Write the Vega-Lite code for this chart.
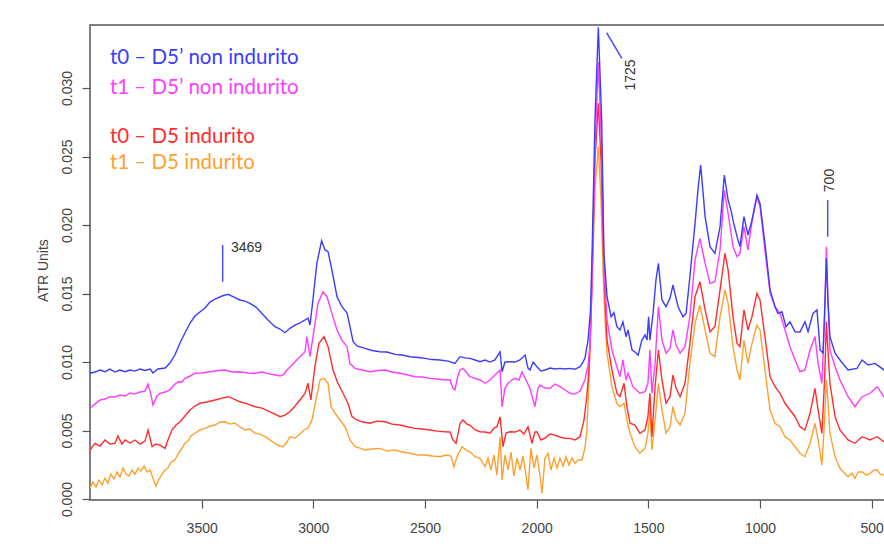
{
  "$schema": "https://vega.github.io/schema/vega-lite/v6.json",
  "width": 796,
  "height": 475,
  "autosize": {"type": "none"},
  "padding": {"left": 90, "top": 25, "right": 0, "bottom": 57},
  "background": "white",
  "config": {
    "view": {"stroke": "#555", "strokeWidth": 1.5},
    "axis": {"labelFont": "Liberation Sans", "labelFontSize": 14, "labelColor": "#444", "titleFont": "Liberation Sans", "titleFontSize": 14, "titleColor": "#444", "titleFontWeight": "normal", "grid": false, "domain": false, "tickColor": "#555", "tickWidth": 1.2, "tickSize": 8}
  },
  "datasets": {
    "spec": [
      {"s":"o","x":4000,"y":0.0008},{"s":"o","x":3987,"y":0.00124},{"s":"o","x":3973,"y":0.00088},{"s":"o","x":3960,"y":0.00139},{"s":"o","x":3946,"y":0.00102},{"s":"o","x":3933,"y":0.00153},{"s":"o","x":3920,"y":0.00117},{"s":"o","x":3906,"y":0.00182},{"s":"o","x":3893,"y":0.00146},{"s":"o","x":3879,"y":0.00197},{"s":"o","x":3866,"y":0.00161},{"s":"o","x":3852,"y":0.00226},{"s":"o","x":3839,"y":0.00182},{"s":"o","x":3826,"y":0.00168},{"s":"o","x":3812,"y":0.00212},{"s":"o","x":3799,"y":0.00182},{"s":"o","x":3785,"y":0.00226},{"s":"o","x":3772,"y":0.00204},{"s":"o","x":3758,"y":0.00241},{"s":"o","x":3745,"y":0.00197},{"s":"o","x":3731,"y":0.00212},{"s":"o","x":3718,"y":0.00153},{"s":"o","x":3705,"y":0.00095},{"s":"o","x":3691,"y":0.00146},{"s":"o","x":3678,"y":0.00182},{"s":"o","x":3664,"y":0.00212},{"s":"o","x":3651,"y":0.00226},{"s":"o","x":3637,"y":0.0027},{"s":"o","x":3620,"y":0.00285},{"s":"o","x":3606,"y":0.00328},{"s":"o","x":3593,"y":0.00358},{"s":"o","x":3575,"y":0.00407},{"s":"o","x":3561,"y":0.00423},{"s":"o","x":3548,"y":0.0046},{"s":"o","x":3530,"y":0.0048},{"s":"o","x":3508,"y":0.00504},{"s":"o","x":3485,"y":0.00516},{"s":"o","x":3463,"y":0.00533},{"s":"o","x":3440,"y":0.0054},{"s":"o","x":3418,"y":0.00562},{"s":"o","x":3396,"y":0.00564},{"s":"o","x":3373,"y":0.00547},{"s":"o","x":3351,"y":0.00555},{"s":"o","x":3329,"y":0.00526},{"s":"o","x":3306,"y":0.00504},{"s":"o","x":3284,"y":0.00511},{"s":"o","x":3261,"y":0.0048},{"s":"o","x":3239,"y":0.00474},{"s":"o","x":3216,"y":0.00455},{"s":"o","x":3194,"y":0.00431},{"s":"o","x":3172,"y":0.00407},{"s":"o","x":3149,"y":0.00387},{"s":"o","x":3136,"y":0.00382},{"s":"o","x":3118,"y":0.00416},{"s":"o","x":3105,"y":0.00455},{"s":"o","x":3082,"y":0.00445},{"s":"o","x":3060,"y":0.00474},{"s":"o","x":3042,"y":0.00504},{"s":"o","x":3024,"y":0.00518},{"s":"o","x":3006,"y":0.00577},{"s":"o","x":2988,"y":0.00723},{"s":"o","x":2970,"y":0.00869},{"s":"o","x":2952,"y":0.00881},{"s":"o","x":2934,"y":0.00845},{"s":"o","x":2921,"y":0.00674},{"s":"o","x":2903,"y":0.00626},{"s":"o","x":2881,"y":0.00577},{"s":"o","x":2858,"y":0.00528},{"s":"o","x":2836,"y":0.00431},{"s":"o","x":2814,"y":0.00382},{"s":"o","x":2791,"y":0.00372},{"s":"o","x":2769,"y":0.00358},{"s":"o","x":2737,"y":0.00365},{"s":"o","x":2702,"y":0.0037},{"s":"o","x":2670,"y":0.0035},{"s":"o","x":2634,"y":0.00358},{"s":"o","x":2603,"y":0.00343},{"s":"o","x":2567,"y":0.00334},{"s":"o","x":2531,"y":0.00321},{"s":"o","x":2500,"y":0.00321},{"s":"o","x":2469,"y":0.00314},{"s":"o","x":2433,"y":0.00309},{"s":"o","x":2406,"y":0.00321},{"s":"o","x":2384,"y":0.00314},{"s":"o","x":2370,"y":0.00236},{"s":"o","x":2357,"y":0.00309},{"s":"o","x":2334,"y":0.00382},{"s":"o","x":2317,"y":0.00358},{"s":"o","x":2299,"y":0.00345},{"s":"o","x":2276,"y":0.00309},{"s":"o","x":2254,"y":0.00297},{"s":"o","x":2231,"y":0.00236},{"s":"o","x":2218,"y":0.00299},{"s":"o","x":2205,"y":0.00212},{"s":"o","x":2191,"y":0.00321},{"s":"o","x":2178,"y":0.00175},{"s":"o","x":2164,"y":0.00455},{"s":"o","x":2155,"y":0.00139},{"s":"o","x":2142,"y":0.00321},{"s":"o","x":2128,"y":0.00212},{"s":"o","x":2115,"y":0.00343},{"s":"o","x":2102,"y":0.00168},{"s":"o","x":2088,"y":0.00299},{"s":"o","x":2075,"y":0.00212},{"s":"o","x":2061,"y":0.00314},{"s":"o","x":2048,"y":0.00175},{"s":"o","x":2039,"y":0.00066},{"s":"o","x":2026,"y":0.0037},{"s":"o","x":2012,"y":0.00226},{"s":"o","x":1999,"y":0.00321},{"s":"o","x":1985,"y":0.00168},{"s":"o","x":1976,"y":0.00042},{"s":"o","x":1963,"y":0.00299},{"s":"o","x":1949,"y":0.00334},{"s":"o","x":1936,"y":0.00212},{"s":"o","x":1922,"y":0.00299},{"s":"o","x":1909,"y":0.00226},{"s":"o","x":1896,"y":0.00299},{"s":"o","x":1882,"y":0.00241},{"s":"o","x":1869,"y":0.00309},{"s":"o","x":1855,"y":0.00248},{"s":"o","x":1842,"y":0.00299},{"s":"o","x":1829,"y":0.00261},{"s":"o","x":1815,"y":0.00285},{"s":"o","x":1797,"y":0.00285},{"s":"o","x":1784,"y":0.00372},{"s":"o","x":1775,"y":0.00504},{"s":"o","x":1766,"y":0.00869},{"s":"o","x":1757,"y":0.01307},{"s":"o","x":1748,"y":0.01745},{"s":"o","x":1739,"y":0.02255},{"s":"o","x":1724,"y":0.02572},{"s":"o","x":1712,"y":0.02182},{"s":"o","x":1703,"y":0.01672},{"s":"o","x":1694,"y":0.01307},{"s":"o","x":1685,"y":0.01064},{"s":"o","x":1663,"y":0.0082},{"s":"o","x":1641,"y":0.00699},{"s":"o","x":1627,"y":0.00674},{"s":"o","x":1609,"y":0.00699},{"s":"o","x":1596,"y":0.00577},{"s":"o","x":1582,"y":0.0048},{"s":"o","x":1560,"y":0.00382},{"s":"o","x":1538,"y":0.00334},{"s":"o","x":1515,"y":0.0037},{"s":"o","x":1502,"y":0.0048},{"s":"o","x":1493,"y":0.0065},{"s":"o","x":1484,"y":0.00358},{"s":"o","x":1470,"y":0.00577},{"s":"o","x":1455,"y":0.00845},{"s":"o","x":1439,"y":0.0065},{"s":"o","x":1421,"y":0.0048},{"s":"o","x":1403,"y":0.00528},{"s":"o","x":1390,"y":0.00674},{"s":"o","x":1376,"y":0.00577},{"s":"o","x":1358,"y":0.0054},{"s":"o","x":1336,"y":0.00626},{"s":"o","x":1314,"y":0.0099},{"s":"o","x":1291,"y":0.01282},{"s":"o","x":1269,"y":0.01416},{"s":"o","x":1246,"y":0.01234},{"s":"o","x":1224,"y":0.01064},{"s":"o","x":1202,"y":0.01039},{"s":"o","x":1179,"y":0.01331},{"s":"o","x":1157,"y":0.01526},{"s":"o","x":1143,"y":0.01428},{"s":"o","x":1121,"y":0.01112},{"s":"o","x":1103,"y":0.00942},{"s":"o","x":1090,"y":0.00869},{"s":"o","x":1072,"y":0.0116},{"s":"o","x":1054,"y":0.0099},{"s":"o","x":1036,"y":0.01136},{"s":"o","x":1014,"y":0.0127},{"s":"o","x":1000,"y":0.01234},{"s":"o","x":978,"y":0.00942},{"s":"o","x":955,"y":0.0065},{"s":"o","x":933,"y":0.00553},{"s":"o","x":911,"y":0.00528},{"s":"o","x":888,"y":0.00455},{"s":"o","x":866,"y":0.00431},{"s":"o","x":843,"y":0.00382},{"s":"o","x":821,"y":0.00334},{"s":"o","x":799,"y":0.00309},{"s":"o","x":776,"y":0.00407},{"s":"o","x":754,"y":0.00553},{"s":"o","x":740,"y":0.00431},{"s":"o","x":723,"y":0.00248},{"s":"o","x":711,"y":0.00577},{"s":"o","x":703,"y":0.00869},{"s":"o","x":696,"y":0.00723},{"s":"o","x":687,"y":0.0048},{"s":"o","x":664,"y":0.00309},{"s":"o","x":642,"y":0.00224},{"s":"o","x":606,"y":0.00163},{"s":"o","x":588,"y":0.0019},{"s":"o","x":575,"y":0.00151},{"s":"o","x":561,"y":0.00197},{"s":"o","x":543,"y":0.00199},{"s":"o","x":525,"y":0.00175},{"s":"o","x":507,"y":0.00188},{"s":"o","x":490,"y":0.00212},{"s":"o","x":476,"y":0.00212},{"s":"o","x":462,"y":0.00182},{"s":"o","x":445,"y":0.00175},{"s":"o","x":436,"y":0.0017},

      {"s":"r","x":4000,"y":0.00358},{"s":"r","x":3978,"y":0.00407},{"s":"r","x":3955,"y":0.00387},{"s":"r","x":3933,"y":0.00431},{"s":"r","x":3911,"y":0.00401},{"s":"r","x":3888,"y":0.00407},{"s":"r","x":3875,"y":0.0046},{"s":"r","x":3857,"y":0.00401},{"s":"r","x":3843,"y":0.00431},{"s":"r","x":3821,"y":0.00409},{"s":"r","x":3799,"y":0.00431},{"s":"r","x":3776,"y":0.00401},{"s":"r","x":3754,"y":0.00423},{"s":"r","x":3740,"y":0.00504},{"s":"r","x":3722,"y":0.00382},{"s":"r","x":3705,"y":0.00401},{"s":"r","x":3687,"y":0.00394},{"s":"r","x":3664,"y":0.0037},{"s":"r","x":3651,"y":0.00431},{"s":"r","x":3633,"y":0.00504},{"s":"r","x":3615,"y":0.0054},{"s":"r","x":3597,"y":0.00564},{"s":"r","x":3575,"y":0.00606},{"s":"r","x":3552,"y":0.0065},{"s":"r","x":3530,"y":0.00679},{"s":"r","x":3508,"y":0.00699},{"s":"r","x":3476,"y":0.00708},{"s":"r","x":3440,"y":0.00723},{"s":"r","x":3409,"y":0.00737},{"s":"r","x":3382,"y":0.00747},{"s":"r","x":3355,"y":0.0073},{"s":"r","x":3329,"y":0.0071},{"s":"r","x":3293,"y":0.00693},{"s":"r","x":3261,"y":0.00674},{"s":"r","x":3230,"y":0.00664},{"s":"r","x":3194,"y":0.00637},{"s":"r","x":3172,"y":0.0062},{"s":"r","x":3149,"y":0.00601},{"s":"r","x":3127,"y":0.00613},{"s":"r","x":3105,"y":0.00637},{"s":"r","x":3082,"y":0.00679},{"s":"r","x":3060,"y":0.00723},{"s":"r","x":3037,"y":0.00772},{"s":"r","x":3024,"y":0.00845},{"s":"r","x":3011,"y":0.00723},{"s":"r","x":2993,"y":0.00966},{"s":"r","x":2975,"y":0.01136},{"s":"r","x":2952,"y":0.01185},{"s":"r","x":2934,"y":0.01112},{"s":"r","x":2912,"y":0.00942},{"s":"r","x":2890,"y":0.00845},{"s":"r","x":2867,"y":0.00772},{"s":"r","x":2845,"y":0.00699},{"s":"r","x":2827,"y":0.00601},{"s":"r","x":2805,"y":0.00577},{"s":"r","x":2778,"y":0.00562},{"s":"r","x":2746,"y":0.00553},{"s":"r","x":2715,"y":0.00569},{"s":"r","x":2679,"y":0.00564},{"s":"r","x":2648,"y":0.00547},{"s":"r","x":2612,"y":0.0054},{"s":"r","x":2576,"y":0.00526},{"s":"r","x":2545,"y":0.00516},{"s":"r","x":2514,"y":0.00511},{"s":"r","x":2478,"y":0.00504},{"s":"r","x":2446,"y":0.00496},{"s":"r","x":2411,"y":0.00491},{"s":"r","x":2388,"y":0.00489},{"s":"r","x":2375,"y":0.00431},{"s":"r","x":2361,"y":0.00407},{"s":"r","x":2343,"y":0.00553},{"s":"r","x":2330,"y":0.00577},{"s":"r","x":2312,"y":0.00547},{"s":"r","x":2299,"y":0.0054},{"s":"r","x":2276,"y":0.00504},{"s":"r","x":2254,"y":0.00491},{"s":"r","x":2231,"y":0.00489},{"s":"r","x":2209,"y":0.0048},{"s":"r","x":2191,"y":0.00518},{"s":"r","x":2178,"y":0.00528},{"s":"r","x":2164,"y":0.00601},{"s":"r","x":2151,"y":0.00382},{"s":"r","x":2137,"y":0.00482},{"s":"r","x":2120,"y":0.00491},{"s":"r","x":2097,"y":0.00489},{"s":"r","x":2075,"y":0.00504},{"s":"r","x":2057,"y":0.00474},{"s":"r","x":2039,"y":0.00528},{"s":"r","x":2021,"y":0.00407},{"s":"r","x":2008,"y":0.00489},{"s":"r","x":1999,"y":0.00491},{"s":"r","x":1981,"y":0.00431},{"s":"r","x":1963,"y":0.00445},{"s":"r","x":1940,"y":0.00474},{"s":"r","x":1918,"y":0.00467},{"s":"r","x":1896,"y":0.00453},{"s":"r","x":1873,"y":0.00443},{"s":"r","x":1851,"y":0.00443},{"s":"r","x":1829,"y":0.00431},{"s":"r","x":1806,"y":0.00455},{"s":"r","x":1788,"y":0.00577},{"s":"r","x":1775,"y":0.00759},{"s":"r","x":1766,"y":0.00942},{"s":"r","x":1757,"y":0.01307},{"s":"r","x":1748,"y":0.01915},{"s":"r","x":1739,"y":0.02474},{"s":"r","x":1724,"y":0.02888},{"s":"r","x":1712,"y":0.02474},{"s":"r","x":1703,"y":0.01915},{"s":"r","x":1694,"y":0.01453},{"s":"r","x":1685,"y":0.0116},{"s":"r","x":1663,"y":0.00942},{"s":"r","x":1641,"y":0.00772},{"s":"r","x":1627,"y":0.00747},{"s":"r","x":1609,"y":0.00845},{"s":"r","x":1596,"y":0.00674},{"s":"r","x":1582,"y":0.00553},{"s":"r","x":1560,"y":0.0054},{"s":"r","x":1538,"y":0.0048},{"s":"r","x":1515,"y":0.00504},{"s":"r","x":1502,"y":0.00601},{"s":"r","x":1493,"y":0.00772},{"s":"r","x":1484,"y":0.00455},{"s":"r","x":1470,"y":0.0082},{"s":"r","x":1455,"y":0.01088},{"s":"r","x":1439,"y":0.00869},{"s":"r","x":1421,"y":0.00699},{"s":"r","x":1403,"y":0.00747},{"s":"r","x":1390,"y":0.00905},{"s":"r","x":1376,"y":0.0081},{"s":"r","x":1358,"y":0.00747},{"s":"r","x":1336,"y":0.00845},{"s":"r","x":1314,"y":0.01136},{"s":"r","x":1291,"y":0.01477},{"s":"r","x":1269,"y":0.01586},{"s":"r","x":1246,"y":0.0138},{"s":"r","x":1224,"y":0.01221},{"s":"r","x":1202,"y":0.01258},{"s":"r","x":1179,"y":0.01526},{"s":"r","x":1157,"y":0.01793},{"s":"r","x":1143,"y":0.01672},{"s":"r","x":1121,"y":0.01331},{"s":"r","x":1103,"y":0.01136},{"s":"r","x":1090,"y":0.01112},{"s":"r","x":1072,"y":0.0138},{"s":"r","x":1054,"y":0.01234},{"s":"r","x":1036,"y":0.01331},{"s":"r","x":1014,"y":0.01501},{"s":"r","x":1000,"y":0.01453},{"s":"r","x":978,"y":0.01185},{"s":"r","x":955,"y":0.00893},{"s":"r","x":933,"y":0.0082},{"s":"r","x":911,"y":0.00772},{"s":"r","x":888,"y":0.00699},{"s":"r","x":866,"y":0.0065},{"s":"r","x":843,"y":0.00601},{"s":"r","x":821,"y":0.00528},{"s":"r","x":799,"y":0.00504},{"s":"r","x":776,"y":0.00626},{"s":"r","x":754,"y":0.00808},{"s":"r","x":740,"y":0.0065},{"s":"r","x":723,"y":0.0048},{"s":"r","x":711,"y":0.00869},{"s":"r","x":703,"y":0.01294},{"s":"r","x":696,"y":0.01088},{"s":"r","x":687,"y":0.00845},{"s":"r","x":664,"y":0.00601},{"s":"r","x":642,"y":0.00504},{"s":"r","x":606,"y":0.00431},{"s":"r","x":575,"y":0.00407},{"s":"r","x":543,"y":0.00455},{"s":"r","x":507,"y":0.00431},{"s":"r","x":476,"y":0.00455},{"s":"r","x":445,"y":0.00418},{"s":"r","x":436,"y":0.0042},

      {"s":"m","x":4000,"y":0.00662},{"s":"m","x":3978,"y":0.00693},{"s":"m","x":3955,"y":0.00723},{"s":"m","x":3933,"y":0.0073},{"s":"m","x":3911,"y":0.00747},{"s":"m","x":3888,"y":0.00745},{"s":"m","x":3866,"y":0.00759},{"s":"m","x":3843,"y":0.00752},{"s":"m","x":3821,"y":0.00774},{"s":"m","x":3799,"y":0.00766},{"s":"m","x":3776,"y":0.00781},{"s":"m","x":3754,"y":0.00788},{"s":"m","x":3740,"y":0.00839},{"s":"m","x":3727,"y":0.00759},{"s":"m","x":3718,"y":0.00686},{"s":"m","x":3700,"y":0.00752},{"s":"m","x":3687,"y":0.00772},{"s":"m","x":3664,"y":0.00781},{"s":"m","x":3642,"y":0.00796},{"s":"m","x":3624,"y":0.00832},{"s":"m","x":3606,"y":0.00856},{"s":"m","x":3588,"y":0.00854},{"s":"m","x":3575,"y":0.00881},{"s":"m","x":3552,"y":0.00898},{"s":"m","x":3530,"y":0.00918},{"s":"m","x":3499,"y":0.0092},{"s":"m","x":3463,"y":0.00929},{"s":"m","x":3427,"y":0.00938},{"s":"m","x":3396,"y":0.00942},{"s":"m","x":3364,"y":0.00927},{"s":"m","x":3329,"y":0.00929},{"s":"m","x":3293,"y":0.0092},{"s":"m","x":3261,"y":0.00918},{"s":"m","x":3230,"y":0.00927},{"s":"m","x":3194,"y":0.00912},{"s":"m","x":3167,"y":0.00905},{"s":"m","x":3149,"y":0.00898},{"s":"m","x":3132,"y":0.00912},{"s":"m","x":3118,"y":0.00942},{"s":"m","x":3100,"y":0.00971},{"s":"m","x":3082,"y":0.01002},{"s":"m","x":3060,"y":0.01039},{"s":"m","x":3037,"y":0.01075},{"s":"m","x":3029,"y":0.01185},{"s":"m","x":3015,"y":0.01039},{"s":"m","x":2997,"y":0.01234},{"s":"m","x":2979,"y":0.01428},{"s":"m","x":2957,"y":0.01513},{"s":"m","x":2939,"y":0.01477},{"s":"m","x":2917,"y":0.01355},{"s":"m","x":2894,"y":0.01234},{"s":"m","x":2872,"y":0.0116},{"s":"m","x":2849,"y":0.01112},{"s":"m","x":2836,"y":0.0099},{"s":"m","x":2814,"y":0.00954},{"s":"m","x":2782,"y":0.00942},{"s":"m","x":2746,"y":0.00929},{"s":"m","x":2711,"y":0.00938},{"s":"m","x":2679,"y":0.00942},{"s":"m","x":2648,"y":0.00927},{"s":"m","x":2612,"y":0.00918},{"s":"m","x":2576,"y":0.00905},{"s":"m","x":2545,"y":0.00893},{"s":"m","x":2514,"y":0.00891},{"s":"m","x":2478,"y":0.00881},{"s":"m","x":2446,"y":0.00876},{"s":"m","x":2411,"y":0.00869},{"s":"m","x":2388,"y":0.00869},{"s":"m","x":2375,"y":0.0081},{"s":"m","x":2366,"y":0.00796},{"s":"m","x":2353,"y":0.00898},{"s":"m","x":2343,"y":0.00942},{"s":"m","x":2330,"y":0.00954},{"s":"m","x":2312,"y":0.0092},{"s":"m","x":2299,"y":0.00893},{"s":"m","x":2276,"y":0.00881},{"s":"m","x":2254,"y":0.00869},{"s":"m","x":2231,"y":0.00845},{"s":"m","x":2209,"y":0.00869},{"s":"m","x":2187,"y":0.00905},{"s":"m","x":2164,"y":0.00942},{"s":"m","x":2155,"y":0.00674},{"s":"m","x":2142,"y":0.0081},{"s":"m","x":2128,"y":0.00845},{"s":"m","x":2111,"y":0.00869},{"s":"m","x":2097,"y":0.00881},{"s":"m","x":2079,"y":0.00869},{"s":"m","x":2066,"y":0.00929},{"s":"m","x":2048,"y":0.00869},{"s":"m","x":2030,"y":0.00808},{"s":"m","x":2008,"y":0.00674},{"s":"m","x":1994,"y":0.0081},{"s":"m","x":1985,"y":0.00832},{"s":"m","x":1963,"y":0.0081},{"s":"m","x":1940,"y":0.00808},{"s":"m","x":1918,"y":0.00839},{"s":"m","x":1896,"y":0.0082},{"s":"m","x":1873,"y":0.00796},{"s":"m","x":1851,"y":0.00772},{"s":"m","x":1829,"y":0.00766},{"s":"m","x":1806,"y":0.00788},{"s":"m","x":1784,"y":0.00869},{"s":"m","x":1770,"y":0.00978},{"s":"m","x":1761,"y":0.01124},{"s":"m","x":1752,"y":0.01599},{"s":"m","x":1739,"y":0.02547},{"s":"m","x":1724,"y":0.03192},{"s":"m","x":1709,"y":0.02547},{"s":"m","x":1699,"y":0.01708},{"s":"m","x":1685,"y":0.01307},{"s":"m","x":1663,"y":0.01088},{"s":"m","x":1641,"y":0.00966},{"s":"m","x":1627,"y":0.00893},{"s":"m","x":1614,"y":0.01015},{"s":"m","x":1600,"y":0.00869},{"s":"m","x":1591,"y":0.00918},{"s":"m","x":1569,"y":0.0082},{"s":"m","x":1538,"y":0.00772},{"s":"m","x":1515,"y":0.00783},{"s":"m","x":1502,"y":0.00845},{"s":"m","x":1493,"y":0.01088},{"s":"m","x":1484,"y":0.00772},{"s":"m","x":1470,"y":0.0099},{"s":"m","x":1455,"y":0.01404},{"s":"m","x":1439,"y":0.0116},{"s":"m","x":1421,"y":0.01064},{"s":"m","x":1403,"y":0.011},{"s":"m","x":1390,"y":0.01234},{"s":"m","x":1376,"y":0.01124},{"s":"m","x":1358,"y":0.01064},{"s":"m","x":1336,"y":0.01112},{"s":"m","x":1314,"y":0.01331},{"s":"m","x":1291,"y":0.01745},{"s":"m","x":1269,"y":0.01903},{"s":"m","x":1246,"y":0.0172},{"s":"m","x":1224,"y":0.01574},{"s":"m","x":1202,"y":0.01586},{"s":"m","x":1179,"y":0.01818},{"s":"m","x":1160,"y":0.02255},{"s":"m","x":1143,"y":0.02085},{"s":"m","x":1121,"y":0.01842},{"s":"m","x":1103,"y":0.01769},{"s":"m","x":1090,"y":0.01793},{"s":"m","x":1072,"y":0.01988},{"s":"m","x":1054,"y":0.01818},{"s":"m","x":1036,"y":0.02024},{"s":"m","x":1014,"y":0.02207},{"s":"m","x":1000,"y":0.02134},{"s":"m","x":978,"y":0.01818},{"s":"m","x":955,"y":0.01501},{"s":"m","x":933,"y":0.01404},{"s":"m","x":911,"y":0.01355},{"s":"m","x":888,"y":0.01234},{"s":"m","x":866,"y":0.01112},{"s":"m","x":843,"y":0.01015},{"s":"m","x":821,"y":0.00929},{"s":"m","x":799,"y":0.00942},{"s":"m","x":776,"y":0.01088},{"s":"m","x":754,"y":0.01185},{"s":"m","x":740,"y":0.0099},{"s":"m","x":723,"y":0.00845},{"s":"m","x":711,"y":0.01307},{"s":"m","x":703,"y":0.01842},{"s":"m","x":696,"y":0.01453},{"s":"m","x":687,"y":0.01088},{"s":"m","x":664,"y":0.00966},{"s":"m","x":642,"y":0.00869},{"s":"m","x":606,"y":0.00747},{"s":"m","x":575,"y":0.00674},{"s":"m","x":543,"y":0.00747},{"s":"m","x":507,"y":0.00772},{"s":"m","x":476,"y":0.0082},{"s":"m","x":445,"y":0.00747},{"s":"m","x":436,"y":0.0074},

      {"s":"b","x":4000,"y":0.00918},{"s":"b","x":3978,"y":0.00927},{"s":"b","x":3955,"y":0.00942},{"s":"b","x":3933,"y":0.00929},{"s":"b","x":3911,"y":0.00949},{"s":"b","x":3888,"y":0.00927},{"s":"b","x":3866,"y":0.00942},{"s":"b","x":3843,"y":0.00929},{"s":"b","x":3821,"y":0.00942},{"s":"b","x":3799,"y":0.00934},{"s":"b","x":3776,"y":0.00949},{"s":"b","x":3754,"y":0.00938},{"s":"b","x":3731,"y":0.00949},{"s":"b","x":3718,"y":0.0092},{"s":"b","x":3696,"y":0.00949},{"s":"b","x":3664,"y":0.00956},{"s":"b","x":3642,"y":0.00993},{"s":"b","x":3620,"y":0.01051},{"s":"b","x":3597,"y":0.01139},{"s":"b","x":3575,"y":0.01212},{"s":"b","x":3552,"y":0.01285},{"s":"b","x":3530,"y":0.01336},{"s":"b","x":3508,"y":0.01365},{"s":"b","x":3485,"y":0.01394},{"s":"b","x":3463,"y":0.01438},{"s":"b","x":3440,"y":0.0146},{"s":"b","x":3409,"y":0.01482},{"s":"b","x":3382,"y":0.01494},{"s":"b","x":3355,"y":0.01474},{"s":"b","x":3329,"y":0.01453},{"s":"b","x":3306,"y":0.01445},{"s":"b","x":3284,"y":0.01428},{"s":"b","x":3257,"y":0.01401},{"s":"b","x":3230,"y":0.01355},{"s":"b","x":3203,"y":0.01307},{"s":"b","x":3172,"y":0.01258},{"s":"b","x":3149,"y":0.01241},{"s":"b","x":3127,"y":0.01214},{"s":"b","x":3105,"y":0.01246},{"s":"b","x":3082,"y":0.0127},{"s":"b","x":3060,"y":0.01285},{"s":"b","x":3037,"y":0.01307},{"s":"b","x":3024,"y":0.01321},{"s":"b","x":3015,"y":0.0127},{"s":"b","x":3002,"y":0.01453},{"s":"b","x":2984,"y":0.01723},{"s":"b","x":2963,"y":0.01885},{"s":"b","x":2948,"y":0.01818},{"s":"b","x":2934,"y":0.01805},{"s":"b","x":2917,"y":0.01672},{"s":"b","x":2894,"y":0.01477},{"s":"b","x":2872,"y":0.01404},{"s":"b","x":2849,"y":0.01358},{"s":"b","x":2836,"y":0.01258},{"s":"b","x":2822,"y":0.01148},{"s":"b","x":2805,"y":0.01117},{"s":"b","x":2769,"y":0.011},{"s":"b","x":2737,"y":0.01084},{"s":"b","x":2702,"y":0.01075},{"s":"b","x":2670,"y":0.01073},{"s":"b","x":2634,"y":0.01056},{"s":"b","x":2603,"y":0.01051},{"s":"b","x":2567,"y":0.01039},{"s":"b","x":2531,"y":0.01033},{"s":"b","x":2500,"y":0.01027},{"s":"b","x":2469,"y":0.01018},{"s":"b","x":2433,"y":0.01015},{"s":"b","x":2397,"y":0.01007},{"s":"b","x":2366,"y":0.0099},{"s":"b","x":2343,"y":0.01039},{"s":"b","x":2321,"y":0.0103},{"s":"b","x":2299,"y":0.01027},{"s":"b","x":2276,"y":0.01015},{"s":"b","x":2254,"y":0.01002},{"s":"b","x":2231,"y":0.01015},{"s":"b","x":2209,"y":0.01},{"s":"b","x":2187,"y":0.01015},{"s":"b","x":2164,"y":0.01075},{"s":"b","x":2155,"y":0.00929},{"s":"b","x":2142,"y":0.01},{"s":"b","x":2120,"y":0.01002},{"s":"b","x":2097,"y":0.01},{"s":"b","x":2075,"y":0.01015},{"s":"b","x":2052,"y":0.01051},{"s":"b","x":2039,"y":0.00956},{"s":"b","x":2030,"y":0.00942},{"s":"b","x":2016,"y":0.01},{"s":"b","x":1999,"y":0.00966},{"s":"b","x":1981,"y":0.00934},{"s":"b","x":1963,"y":0.00942},{"s":"b","x":1940,"y":0.00956},{"s":"b","x":1918,"y":0.00949},{"s":"b","x":1896,"y":0.00954},{"s":"b","x":1873,"y":0.00949},{"s":"b","x":1851,"y":0.00954},{"s":"b","x":1829,"y":0.00947},{"s":"b","x":1806,"y":0.00966},{"s":"b","x":1793,"y":0.01},{"s":"b","x":1784,"y":0.01027},{"s":"b","x":1770,"y":0.0116},{"s":"b","x":1759,"y":0.0138},{"s":"b","x":1752,"y":0.01796},{"s":"b","x":1739,"y":0.02766},{"s":"b","x":1724,"y":0.03443},{"s":"b","x":1709,"y":0.02766},{"s":"b","x":1699,"y":0.01796},{"s":"b","x":1685,"y":0.01477},{"s":"b","x":1667,"y":0.01331},{"s":"b","x":1654,"y":0.0136},{"s":"b","x":1641,"y":0.01258},{"s":"b","x":1627,"y":0.01234},{"s":"b","x":1614,"y":0.01294},{"s":"b","x":1600,"y":0.01185},{"s":"b","x":1591,"y":0.01234},{"s":"b","x":1573,"y":0.01088},{"s":"b","x":1560,"y":0.01073},{"s":"b","x":1546,"y":0.01051},{"s":"b","x":1529,"y":0.0116},{"s":"b","x":1515,"y":0.01197},{"s":"b","x":1506,"y":0.0116},{"s":"b","x":1499,"y":0.0133},{"s":"b","x":1493,"y":0.0116},{"s":"b","x":1479,"y":0.01355},{"s":"b","x":1466,"y":0.01599},{"s":"b","x":1455,"y":0.0172},{"s":"b","x":1448,"y":0.01599},{"s":"b","x":1439,"y":0.01453},{"s":"b","x":1421,"y":0.01404},{"s":"b","x":1403,"y":0.01467},{"s":"b","x":1390,"y":0.01562},{"s":"b","x":1376,"y":0.01467},{"s":"b","x":1367,"y":0.01404},{"s":"b","x":1345,"y":0.01331},{"s":"b","x":1331,"y":0.01355},{"s":"b","x":1314,"y":0.01623},{"s":"b","x":1291,"y":0.02012},{"s":"b","x":1278,"y":0.02255},{"s":"b","x":1266,"y":0.02438},{"s":"b","x":1256,"y":0.02255},{"s":"b","x":1246,"y":0.02061},{"s":"b","x":1224,"y":0.01842},{"s":"b","x":1202,"y":0.01793},{"s":"b","x":1179,"y":0.01988},{"s":"b","x":1160,"y":0.02365},{"s":"b","x":1143,"y":0.02182},{"s":"b","x":1130,"y":0.02109},{"s":"b","x":1121,"y":0.02036},{"s":"b","x":1103,"y":0.01915},{"s":"b","x":1090,"y":0.01842},{"s":"b","x":1072,"y":0.02061},{"s":"b","x":1054,"y":0.01927},{"s":"b","x":1036,"y":0.02036},{"s":"b","x":1014,"y":0.02219},{"s":"b","x":1000,"y":0.02158},{"s":"b","x":978,"y":0.01866},{"s":"b","x":955,"y":0.01526},{"s":"b","x":933,"y":0.01404},{"s":"b","x":920,"y":0.01355},{"s":"b","x":902,"y":0.01367},{"s":"b","x":884,"y":0.01258},{"s":"b","x":866,"y":0.01294},{"s":"b","x":843,"y":0.01221},{"s":"b","x":821,"y":0.01219},{"s":"b","x":799,"y":0.01294},{"s":"b","x":785,"y":0.01221},{"s":"b","x":763,"y":0.01355},{"s":"b","x":745,"y":0.0138},{"s":"b","x":731,"y":0.01088},{"s":"b","x":718,"y":0.01066},{"s":"b","x":709,"y":0.01453},{"s":"b","x":703,"y":0.01759},{"s":"b","x":696,"y":0.01453},{"s":"b","x":687,"y":0.01185},{"s":"b","x":664,"y":0.01064},{"s":"b","x":642,"y":0.01015},{"s":"b","x":606,"y":0.00942},{"s":"b","x":566,"y":0.00954},{"s":"b","x":543,"y":0.01015},{"s":"b","x":516,"y":0.00978},{"s":"b","x":485,"y":0.0099},{"s":"b","x":445,"y":0.00942},{"s":"b","x":436,"y":0.0094}
    ],
    "legend": [
      {"s":"b","t":"t0 – D5’ non indurito","x":3911,"y":0.03219},
      {"s":"m","t":"t1 – D5’ non indurito","x":3911,"y":0.03},
      {"s":"r","t":"t0 – D5 indurito","x":3911,"y":0.02642},
      {"s":"o","t":"t1 – D5 indurito","x":3911,"y":0.02453}
    ],
    "marks": [
      {"x":3406,"x2":3406,"y":0.01854,"y2":0.01586},
      {"x":1687,"x2":1619,"y":0.03404,"y2":0.03217},
      {"x":697,"x2":697,"y":0.02182,"y2":0.01915}
    ],
    "labels": [
      {"t":"1725","x":1576,"y":0.03095},
      {"t":"700","x":687,"y":0.02325}
    ],
    "label3469": [
      {"t":"3469","x":3369,"y":0.0183}
    ]
  },
  "encoding": {
    "x": {"field": "x", "type": "quantitative", "scale": {"domain": [436, 4000], "reverse": true, "nice": false, "zero": false},
      "axis": {"values": [3500, 3000, 2500, 2000, 1500, 1000, 500], "format": "d", "title": null, "labelPadding": 13, "labelFlush": false}},
    "y": {"field": "y", "type": "quantitative", "scale": {"domain": [-0.00007, 0.0346], "nice": false, "zero": false},
      "axis": {"values": [0, 0.005, 0.01, 0.015, 0.02, 0.025, 0.03], "format": ".3f", "title": "ATR Units", "labelAngle": -90, "labelAlign": "center", "labelBaseline": "alphabetic", "labelPadding": 11, "labelFlush": false, "titleAngle": -90, "titleAlign": "center", "titleBaseline": "alphabetic", "titleX": -43, "titleY": 245}}
  },
  "layer": [
    {
      "data": {"name": "spec"},
      "mark": {"type": "line", "strokeWidth": 1.4, "clip": true, "interpolate": "linear"},
      "encoding": {
        "color": {"field": "s", "type": "nominal", "scale": {"domain": ["o", "r", "m", "b"], "range": ["#ffa030", "#ff2d2d", "#ff3cff", "#3c3cff"]}, "legend": null}
      }
    },
    {
      "data": {"name": "marks"},
      "mark": {"type": "rule", "color": "#4a4aff", "strokeWidth": 1.5},
      "encoding": {"x2": {"field": "x2"}, "y2": {"field": "y2"}}
    },
    {
      "data": {"name": "legend"},
      "mark": {"type": "text", "font": "Lato", "fontSize": 20.5, "align": "left", "baseline": "middle"},
      "encoding": {
        "text": {"field": "t"},
        "color": {"field": "s", "type": "nominal", "scale": {"domain": ["o", "r", "m", "b"], "range": ["#ffa030", "#ff2d2d", "#ff3cff", "#3c3cff"]}, "legend": null}
      }
    },
    {
      "data": {"name": "labels"},
      "mark": {"type": "text", "font": "Liberation Sans", "fontSize": 14, "angle": 270, "align": "center", "baseline": "middle", "color": "#333"},
      "encoding": {"text": {"field": "t"}}
    },
    {
      "data": {"name": "label3469"},
      "mark": {"type": "text", "font": "Liberation Sans", "fontSize": 14, "align": "left", "baseline": "middle", "color": "#333"},
      "encoding": {"text": {"field": "t"}}
    }
  ]
}
